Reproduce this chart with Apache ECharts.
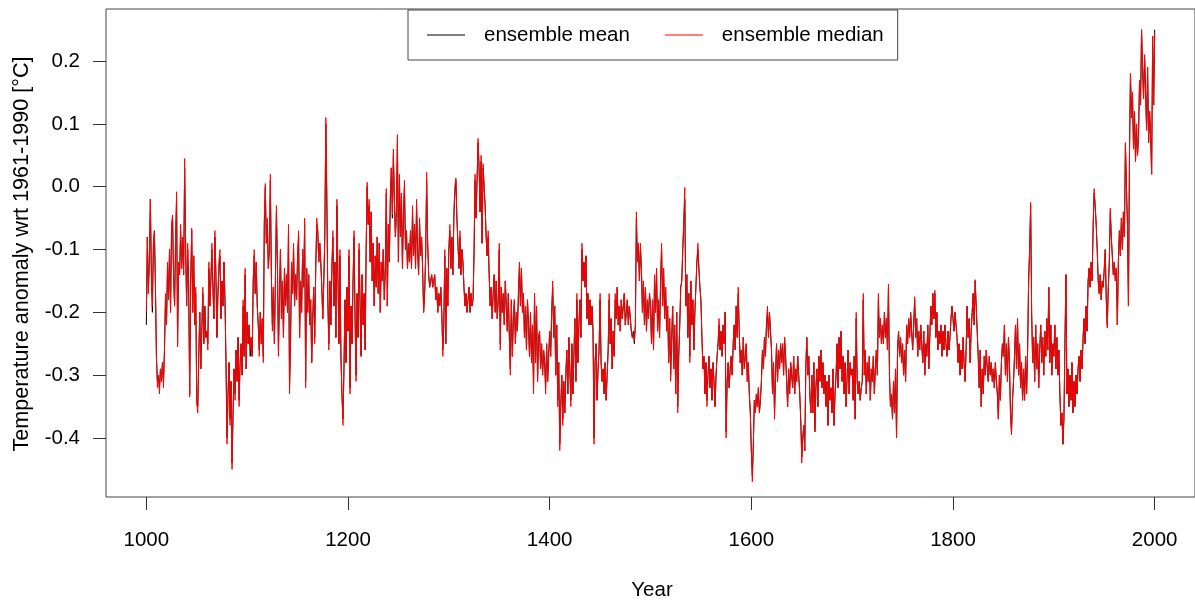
<!DOCTYPE html>
<html>
<head>
<meta charset="utf-8">
<script src="https://cdn.jsdelivr.net/npm/echarts@6/dist/echarts.min.js"></script>
<style>
html, body { margin: 0; padding: 0; background: #fff; }
#chart { width: 1195px; height: 601px; }
</style>
</head>
<body>
<div id="chart"></div>
<script>
// annual values, one row per decade, starting in 1000
var firstYear = 1000;
var xTicks = [1000, 1200, 1400, 1600, 1800, 2000];
var yTicks = [-0.4, -0.3, -0.2, -0.1, 0, 0.1, 0.2];

var ensembleMean = [
-0.22,-0.08,-0.17,-0.12,-0.02,-0.14,-0.20,-0.09,-0.07,-0.16,
-0.27,-0.31,-0.30,-0.32,-0.29,-0.31,-0.28,-0.31,-0.26,-0.18,
-0.22,-0.13,-0.18,-0.10,-0.20,-0.07,-0.05,-0.14,-0.19,-0.09,
-0.02,-0.25,-0.12,-0.14,-0.07,-0.13,-0.08,-0.14,0.03,-0.10,
-0.19,-0.10,-0.16,-0.33,-0.15,-0.07,-0.20,-0.11,-0.22,-0.17,
-0.34,-0.35,-0.27,-0.20,-0.29,-0.23,-0.17,-0.25,-0.19,-0.24,
-0.23,-0.25,-0.13,-0.19,-0.15,-0.10,-0.16,-0.21,-0.08,-0.14,
-0.24,-0.17,-0.13,-0.11,-0.21,-0.15,-0.19,-0.12,-0.18,-0.28,
-0.40,-0.33,-0.28,-0.37,-0.31,-0.44,-0.36,-0.29,-0.33,-0.26,
-0.31,-0.24,-0.34,-0.28,-0.25,-0.30,-0.19,-0.27,-0.14,-0.29,
// 1100
-0.20,-0.25,-0.22,-0.27,-0.24,-0.27,-0.15,-0.11,-0.17,-0.12,
-0.19,-0.22,-0.26,-0.20,-0.25,-0.21,-0.27,-0.06,0.00,-0.09,
-0.06,-0.13,-0.10,0.01,-0.14,-0.22,-0.16,-0.25,-0.15,-0.04,
-0.12,-0.26,-0.18,-0.10,-0.21,-0.15,-0.24,-0.13,-0.19,-0.14,
-0.20,-0.07,-0.32,-0.25,-0.12,-0.17,-0.10,-0.19,-0.14,-0.18,
-0.11,-0.08,-0.24,-0.15,-0.20,-0.10,-0.16,-0.06,-0.31,-0.13,
-0.20,-0.14,-0.22,-0.18,-0.28,-0.21,-0.16,-0.24,-0.13,-0.06,
-0.07,-0.12,-0.09,-0.12,-0.16,-0.21,-0.15,-0.08,0.10,-0.02,
-0.18,-0.25,-0.15,-0.22,-0.13,-0.08,-0.19,-0.12,-0.24,-0.03,
-0.14,-0.25,-0.11,-0.27,-0.33,-0.37,-0.29,-0.18,-0.28,-0.16,
// 1200
-0.23,-0.11,-0.32,-0.19,-0.25,-0.15,-0.08,-0.21,-0.30,-0.17,
-0.24,-0.10,-0.19,-0.27,-0.14,-0.22,-0.17,-0.26,-0.10,0.00,
-0.06,-0.03,-0.12,-0.04,-0.15,-0.09,-0.19,-0.11,-0.16,-0.08,
-0.17,-0.09,-0.20,-0.12,-0.15,-0.10,-0.18,-0.13,-0.01,-0.19,
-0.06,-0.12,-0.02,0.03,-0.05,0.05,-0.02,-0.08,-0.04,0.07,
-0.12,0.01,-0.08,-0.01,-0.13,-0.04,0.00,-0.10,-0.07,-0.13,
-0.09,-0.12,-0.07,-0.13,-0.04,-0.11,-0.06,-0.13,-0.03,-0.10,
-0.14,-0.06,-0.11,-0.08,-0.13,-0.20,-0.17,-0.11,0.01,-0.09,
-0.14,-0.16,-0.15,-0.14,-0.16,-0.15,-0.14,-0.18,-0.16,-0.20,
-0.17,-0.19,-0.16,-0.20,-0.26,-0.22,-0.11,-0.25,-0.13,-0.19,
// 1300
-0.10,-0.07,-0.13,-0.08,-0.14,-0.05,-0.01,0.01,-0.05,-0.09,
-0.13,-0.08,-0.14,-0.10,-0.12,-0.16,-0.19,-0.17,-0.20,-0.18,
-0.16,-0.20,-0.17,-0.19,-0.18,-0.11,0.01,-0.05,0.01,0.07,
0.03,-0.04,0.04,-0.09,0.03,0.00,-0.03,-0.08,-0.11,-0.08,
-0.14,-0.19,-0.16,-0.21,-0.17,-0.14,-0.20,-0.15,-0.21,-0.18,
-0.10,-0.25,-0.16,-0.20,-0.17,-0.22,-0.15,-0.19,-0.23,-0.17,
-0.24,-0.29,-0.18,-0.27,-0.21,-0.18,-0.25,-0.20,-0.23,-0.17,
-0.13,-0.19,-0.13,-0.20,-0.17,-0.24,-0.19,-0.26,-0.18,-0.22,
-0.27,-0.20,-0.28,-0.22,-0.32,-0.17,-0.28,-0.19,-0.31,-0.24,
-0.23,-0.29,-0.25,-0.30,-0.26,-0.28,-0.32,-0.25,-0.31,-0.27,
// 1400
-0.23,-0.27,-0.20,-0.16,-0.24,-0.19,-0.30,-0.22,-0.34,-0.28,
-0.41,-0.35,-0.30,-0.37,-0.31,-0.36,-0.30,-0.26,-0.33,-0.24,
-0.29,-0.34,-0.25,-0.33,-0.27,-0.21,-0.31,-0.18,-0.28,-0.22,
-0.18,-0.24,-0.10,-0.15,-0.12,-0.16,-0.11,-0.21,-0.17,-0.22,
-0.18,-0.22,-0.19,-0.23,-0.40,-0.28,-0.25,-0.34,-0.29,-0.26,
-0.18,-0.28,-0.31,-0.29,-0.33,-0.28,-0.34,-0.30,-0.26,-0.18,
-0.25,-0.21,-0.29,-0.23,-0.27,-0.18,-0.21,-0.16,-0.22,-0.19,
-0.23,-0.18,-0.21,-0.19,-0.17,-0.22,-0.20,-0.18,-0.22,-0.19,
-0.21,-0.23,-0.24,-0.23,-0.25,-0.22,-0.05,-0.12,-0.09,-0.15,
-0.10,-0.13,-0.20,-0.15,-0.22,-0.16,-0.23,-0.18,-0.21,-0.17,
// 1500
-0.19,-0.25,-0.18,-0.26,-0.15,-0.20,-0.13,-0.23,-0.18,-0.24,
-0.15,-0.10,-0.19,-0.13,-0.21,-0.16,-0.23,-0.19,-0.28,-0.21,
-0.30,-0.24,-0.19,-0.29,-0.22,-0.33,-0.20,-0.35,-0.27,-0.22,
-0.16,-0.15,-0.10,-0.06,-0.02,-0.19,-0.14,-0.24,-0.17,-0.27,
-0.15,-0.22,-0.18,-0.26,-0.20,-0.16,-0.12,-0.10,-0.13,-0.16,
-0.18,-0.24,-0.29,-0.27,-0.33,-0.28,-0.34,-0.30,-0.27,-0.32,
-0.29,-0.34,-0.28,-0.31,-0.35,-0.30,-0.27,-0.25,-0.22,-0.26,
-0.23,-0.27,-0.22,-0.25,-0.20,-0.39,-0.31,-0.28,-0.32,-0.29,
-0.27,-0.30,-0.25,-0.22,-0.26,-0.19,-0.24,-0.17,-0.23,-0.28,
-0.26,-0.30,-0.24,-0.29,-0.27,-0.25,-0.31,-0.28,-0.33,-0.36,
// 1600
-0.42,-0.46,-0.41,-0.34,-0.36,-0.33,-0.35,-0.32,-0.36,-0.34,
-0.31,-0.26,-0.29,-0.24,-0.27,-0.22,-0.20,-0.24,-0.20,-0.23,
-0.26,-0.33,-0.28,-0.36,-0.30,-0.25,-0.31,-0.26,-0.29,-0.25,
-0.28,-0.25,-0.30,-0.24,-0.27,-0.31,-0.35,-0.29,-0.33,-0.28,
-0.28,-0.32,-0.27,-0.33,-0.29,-0.31,-0.27,-0.30,-0.33,-0.37,
-0.43,-0.40,-0.38,-0.42,-0.29,-0.24,-0.30,-0.27,-0.33,-0.36,
-0.30,-0.36,-0.28,-0.39,-0.32,-0.29,-0.35,-0.27,-0.31,-0.26,
-0.32,-0.28,-0.33,-0.30,-0.35,-0.31,-0.38,-0.30,-0.34,-0.32,
-0.36,-0.29,-0.38,-0.33,-0.30,-0.25,-0.32,-0.24,-0.29,-0.23,
-0.31,-0.27,-0.33,-0.28,-0.35,-0.30,-0.26,-0.33,-0.28,-0.30,
// 1700
-0.29,-0.34,-0.27,-0.37,-0.21,-0.31,-0.33,-0.31,-0.34,-0.32,
-0.31,-0.18,-0.30,-0.26,-0.33,-0.28,-0.31,-0.27,-0.34,-0.29,
-0.31,-0.27,-0.33,-0.29,-0.26,-0.30,-0.18,-0.24,-0.21,-0.25,
-0.22,-0.25,-0.20,-0.24,-0.21,-0.26,-0.16,-0.30,-0.35,-0.33,
-0.37,-0.31,-0.36,-0.29,-0.40,-0.26,-0.23,-0.27,-0.24,-0.28,
-0.25,-0.30,-0.26,-0.31,-0.22,-0.25,-0.21,-0.24,-0.20,-0.23,
-0.26,-0.22,-0.18,-0.24,-0.21,-0.27,-0.23,-0.26,-0.22,-0.25,
-0.28,-0.23,-0.30,-0.25,-0.27,-0.22,-0.29,-0.24,-0.19,-0.22,
-0.17,-0.21,-0.17,-0.24,-0.20,-0.26,-0.23,-0.25,-0.22,-0.27,
-0.23,-0.26,-0.22,-0.25,-0.27,-0.23,-0.26,-0.24,-0.21,-0.19,
// 1800
-0.21,-0.23,-0.20,-0.22,-0.24,-0.28,-0.25,-0.30,-0.26,-0.29,
-0.24,-0.28,-0.31,-0.26,-0.19,-0.24,-0.21,-0.28,-0.23,-0.20,
-0.17,-0.22,-0.15,-0.19,-0.23,-0.27,-0.32,-0.26,-0.35,-0.29,
-0.33,-0.27,-0.30,-0.26,-0.29,-0.31,-0.27,-0.30,-0.28,-0.31,
-0.29,-0.32,-0.28,-0.31,-0.33,-0.37,-0.30,-0.34,-0.28,-0.25,
-0.27,-0.22,-0.30,-0.25,-0.31,-0.24,-0.28,-0.36,-0.39,-0.34,
-0.31,-0.27,-0.22,-0.29,-0.21,-0.30,-0.25,-0.32,-0.28,-0.34,
-0.29,-0.34,-0.27,-0.33,-0.26,-0.15,-0.10,-0.03,-0.20,-0.28,
-0.24,-0.31,-0.22,-0.29,-0.25,-0.32,-0.26,-0.22,-0.28,-0.24,
-0.30,-0.23,-0.27,-0.21,-0.26,-0.16,-0.28,-0.22,-0.30,-0.25,
// 1900
-0.27,-0.22,-0.29,-0.24,-0.30,-0.26,-0.33,-0.38,-0.36,-0.41,
-0.37,-0.25,-0.14,-0.33,-0.29,-0.35,-0.30,-0.34,-0.28,-0.36,
-0.31,-0.35,-0.30,-0.33,-0.29,-0.27,-0.31,-0.26,-0.29,-0.24,
-0.21,-0.25,-0.19,-0.23,-0.15,-0.13,-0.16,-0.12,-0.15,-0.06,
-0.01,-0.03,-0.06,-0.10,-0.15,-0.17,-0.14,-0.18,-0.15,-0.16,
-0.13,-0.10,-0.18,-0.22,-0.16,-0.12,-0.04,-0.08,-0.11,-0.14,
-0.12,-0.15,-0.13,-0.22,-0.12,-0.07,-0.11,-0.05,-0.10,-0.04,
-0.08,0.07,0.00,-0.06,-0.19,0.05,0.18,0.11,0.15,0.06,
0.12,0.04,0.10,0.05,0.08,0.17,0.13,0.25,0.19,0.14,
0.21,0.15,0.09,0.19,0.07,0.12,0.08,0.02,0.24,0.13,
0.25
];

var ensembleMedian = [
-0.20,-0.08,-0.17,-0.11,-0.02,-0.14,-0.19,-0.09,-0.07,-0.15,
-0.27,-0.32,-0.30,-0.33,-0.29,-0.31,-0.28,-0.32,-0.26,-0.17,
-0.22,-0.12,-0.18,-0.10,-0.20,-0.06,-0.045,-0.14,-0.19,-0.08,
-0.008,-0.255,-0.12,-0.14,-0.06,-0.13,-0.08,-0.14,0.045,-0.10,
-0.19,-0.09,-0.16,-0.335,-0.15,-0.066,-0.20,-0.11,-0.22,-0.16,
-0.345,-0.36,-0.27,-0.20,-0.29,-0.23,-0.16,-0.25,-0.19,-0.24,
-0.23,-0.26,-0.12,-0.19,-0.15,-0.09,-0.16,-0.21,-0.07,-0.14,
-0.24,-0.17,-0.12,-0.10,-0.21,-0.15,-0.19,-0.12,-0.18,-0.28,
-0.41,-0.33,-0.28,-0.38,-0.31,-0.45,-0.36,-0.29,-0.34,-0.26,
-0.31,-0.24,-0.35,-0.28,-0.25,-0.30,-0.18,-0.27,-0.13,-0.29,
// 1100
-0.20,-0.25,-0.22,-0.26,-0.24,-0.27,-0.15,-0.10,-0.17,-0.12,
-0.19,-0.22,-0.27,-0.20,-0.25,-0.21,-0.28,-0.05,0.005,-0.09,
-0.05,-0.13,-0.10,0.02,-0.14,-0.23,-0.16,-0.25,-0.15,-0.03,
-0.12,-0.27,-0.18,-0.10,-0.21,-0.15,-0.24,-0.13,-0.19,-0.14,
-0.20,-0.06,-0.33,-0.25,-0.12,-0.17,-0.09,-0.19,-0.14,-0.18,
-0.11,-0.07,-0.24,-0.15,-0.20,-0.10,-0.16,-0.05,-0.32,-0.13,
-0.20,-0.14,-0.22,-0.18,-0.28,-0.21,-0.16,-0.25,-0.13,-0.05,
-0.07,-0.12,-0.09,-0.12,-0.16,-0.21,-0.15,-0.08,0.11,-0.01,
-0.18,-0.26,-0.15,-0.22,-0.13,-0.07,-0.19,-0.12,-0.24,-0.02,
-0.14,-0.25,-0.10,-0.27,-0.33,-0.38,-0.29,-0.18,-0.28,-0.16,
// 1200
-0.23,-0.10,-0.33,-0.19,-0.25,-0.15,-0.07,-0.21,-0.31,-0.17,
-0.24,-0.09,-0.19,-0.27,-0.14,-0.22,-0.17,-0.26,-0.10,0.007,
-0.06,-0.02,-0.12,-0.04,-0.15,-0.09,-0.19,-0.11,-0.16,-0.08,
-0.17,-0.09,-0.20,-0.12,-0.15,-0.10,-0.18,-0.13,-0.003,-0.19,
-0.06,-0.12,-0.01,0.03,-0.045,0.06,-0.02,-0.08,-0.04,0.083,
-0.12,0.02,-0.08,-0.01,-0.13,-0.04,0.01,-0.10,-0.07,-0.13,
-0.09,-0.12,-0.07,-0.13,-0.03,-0.11,-0.06,-0.13,-0.02,-0.10,
-0.14,-0.05,-0.11,-0.08,-0.13,-0.20,-0.17,-0.11,0.023,-0.09,
-0.14,-0.16,-0.15,-0.14,-0.16,-0.15,-0.14,-0.18,-0.16,-0.20,
-0.17,-0.19,-0.16,-0.20,-0.27,-0.22,-0.10,-0.25,-0.13,-0.19,
// 1300
-0.10,-0.06,-0.13,-0.08,-0.14,-0.04,0.00,0.014,-0.05,-0.09,
-0.13,-0.07,-0.14,-0.10,-0.12,-0.16,-0.19,-0.17,-0.20,-0.18,
-0.16,-0.20,-0.17,-0.19,-0.18,-0.10,0.02,-0.05,0.01,0.077,
0.03,-0.04,0.05,-0.09,0.037,0.00,-0.03,-0.08,-0.11,-0.07,
-0.14,-0.19,-0.16,-0.21,-0.17,-0.14,-0.20,-0.15,-0.21,-0.18,
-0.09,-0.26,-0.16,-0.20,-0.17,-0.22,-0.15,-0.19,-0.23,-0.17,
-0.24,-0.30,-0.18,-0.27,-0.21,-0.18,-0.25,-0.20,-0.23,-0.17,
-0.12,-0.19,-0.13,-0.20,-0.17,-0.24,-0.19,-0.26,-0.18,-0.22,
-0.27,-0.20,-0.28,-0.22,-0.33,-0.17,-0.28,-0.19,-0.31,-0.24,
-0.23,-0.29,-0.25,-0.30,-0.26,-0.28,-0.33,-0.25,-0.31,-0.27,
// 1400
-0.23,-0.27,-0.20,-0.15,-0.24,-0.19,-0.30,-0.22,-0.35,-0.28,
-0.42,-0.35,-0.30,-0.38,-0.31,-0.36,-0.30,-0.26,-0.33,-0.24,
-0.29,-0.35,-0.25,-0.33,-0.27,-0.21,-0.31,-0.17,-0.28,-0.22,
-0.18,-0.24,-0.09,-0.15,-0.12,-0.16,-0.11,-0.21,-0.17,-0.22,
-0.18,-0.22,-0.19,-0.23,-0.41,-0.28,-0.25,-0.34,-0.29,-0.26,
-0.17,-0.28,-0.31,-0.29,-0.33,-0.28,-0.34,-0.30,-0.26,-0.17,
-0.25,-0.21,-0.29,-0.23,-0.27,-0.17,-0.21,-0.16,-0.22,-0.19,
-0.23,-0.18,-0.21,-0.19,-0.17,-0.22,-0.20,-0.18,-0.22,-0.19,
-0.21,-0.23,-0.24,-0.235,-0.245,-0.22,-0.04,-0.12,-0.09,-0.15,
-0.09,-0.13,-0.20,-0.15,-0.22,-0.16,-0.23,-0.18,-0.21,-0.17,
// 1500
-0.19,-0.25,-0.18,-0.26,-0.14,-0.20,-0.13,-0.23,-0.18,-0.24,
-0.15,-0.09,-0.19,-0.13,-0.21,-0.16,-0.23,-0.19,-0.28,-0.21,
-0.31,-0.24,-0.19,-0.29,-0.22,-0.33,-0.20,-0.36,-0.27,-0.22,
-0.16,-0.15,-0.10,-0.05,-0.001,-0.19,-0.14,-0.24,-0.17,-0.28,
-0.15,-0.22,-0.18,-0.26,-0.20,-0.16,-0.12,-0.09,-0.13,-0.16,
-0.18,-0.24,-0.29,-0.27,-0.33,-0.28,-0.35,-0.30,-0.27,-0.32,
-0.29,-0.34,-0.28,-0.31,-0.35,-0.30,-0.27,-0.25,-0.21,-0.26,
-0.23,-0.27,-0.22,-0.25,-0.20,-0.40,-0.31,-0.28,-0.32,-0.29,
-0.27,-0.30,-0.25,-0.22,-0.26,-0.19,-0.24,-0.16,-0.23,-0.28,
-0.26,-0.30,-0.24,-0.29,-0.27,-0.25,-0.31,-0.28,-0.33,-0.36,
// 1600
-0.42,-0.47,-0.41,-0.34,-0.36,-0.33,-0.35,-0.32,-0.36,-0.34,
-0.31,-0.26,-0.29,-0.24,-0.27,-0.22,-0.19,-0.24,-0.20,-0.23,
-0.26,-0.33,-0.28,-0.37,-0.30,-0.25,-0.31,-0.26,-0.29,-0.25,
-0.28,-0.25,-0.30,-0.24,-0.27,-0.31,-0.35,-0.29,-0.33,-0.28,
-0.28,-0.32,-0.27,-0.33,-0.29,-0.31,-0.27,-0.30,-0.33,-0.37,
-0.44,-0.40,-0.38,-0.42,-0.29,-0.24,-0.30,-0.27,-0.33,-0.36,
-0.30,-0.36,-0.28,-0.39,-0.32,-0.29,-0.35,-0.27,-0.31,-0.26,
-0.32,-0.28,-0.33,-0.30,-0.35,-0.31,-0.38,-0.30,-0.34,-0.32,
-0.36,-0.29,-0.38,-0.33,-0.30,-0.25,-0.32,-0.24,-0.29,-0.23,
-0.31,-0.27,-0.33,-0.28,-0.35,-0.30,-0.26,-0.33,-0.28,-0.30,
// 1700
-0.29,-0.34,-0.27,-0.37,-0.20,-0.31,-0.33,-0.31,-0.34,-0.32,
-0.31,-0.17,-0.30,-0.26,-0.33,-0.28,-0.31,-0.27,-0.34,-0.29,
-0.31,-0.27,-0.33,-0.29,-0.26,-0.30,-0.17,-0.24,-0.21,-0.25,
-0.22,-0.25,-0.20,-0.24,-0.21,-0.26,-0.155,-0.30,-0.35,-0.33,
-0.37,-0.31,-0.36,-0.29,-0.40,-0.26,-0.23,-0.27,-0.24,-0.28,
-0.25,-0.30,-0.26,-0.31,-0.22,-0.25,-0.21,-0.24,-0.20,-0.23,
-0.26,-0.22,-0.175,-0.24,-0.21,-0.27,-0.23,-0.26,-0.22,-0.25,
-0.28,-0.23,-0.30,-0.25,-0.27,-0.22,-0.29,-0.24,-0.19,-0.22,
-0.17,-0.21,-0.165,-0.24,-0.20,-0.26,-0.23,-0.25,-0.22,-0.27,
-0.23,-0.26,-0.22,-0.25,-0.27,-0.23,-0.26,-0.24,-0.21,-0.19,
// 1800
-0.21,-0.23,-0.20,-0.22,-0.24,-0.28,-0.25,-0.30,-0.26,-0.29,
-0.24,-0.28,-0.31,-0.26,-0.19,-0.24,-0.21,-0.28,-0.23,-0.20,
-0.17,-0.22,-0.148,-0.19,-0.23,-0.27,-0.32,-0.26,-0.35,-0.29,
-0.33,-0.27,-0.30,-0.26,-0.29,-0.31,-0.27,-0.30,-0.28,-0.31,
-0.29,-0.32,-0.28,-0.31,-0.33,-0.37,-0.30,-0.34,-0.28,-0.25,
-0.27,-0.22,-0.30,-0.25,-0.31,-0.24,-0.28,-0.36,-0.395,-0.34,
-0.31,-0.27,-0.22,-0.29,-0.21,-0.30,-0.25,-0.32,-0.28,-0.34,
-0.29,-0.34,-0.27,-0.33,-0.26,-0.15,-0.10,-0.025,-0.20,-0.28,
-0.24,-0.31,-0.22,-0.29,-0.25,-0.32,-0.26,-0.22,-0.28,-0.24,
-0.30,-0.23,-0.27,-0.21,-0.26,-0.16,-0.28,-0.22,-0.30,-0.25,
// 1900
-0.27,-0.22,-0.29,-0.24,-0.30,-0.26,-0.33,-0.38,-0.36,-0.41,
-0.37,-0.25,-0.14,-0.33,-0.29,-0.35,-0.30,-0.34,-0.28,-0.36,
-0.31,-0.35,-0.30,-0.33,-0.29,-0.27,-0.31,-0.26,-0.29,-0.24,
-0.21,-0.25,-0.19,-0.23,-0.15,-0.13,-0.16,-0.12,-0.15,-0.06,
-0.003,-0.03,-0.06,-0.10,-0.15,-0.17,-0.14,-0.18,-0.15,-0.16,
-0.13,-0.10,-0.18,-0.225,-0.16,-0.12,-0.034,-0.08,-0.11,-0.14,
-0.12,-0.15,-0.13,-0.22,-0.12,-0.07,-0.11,-0.05,-0.10,-0.04,
-0.08,0.07,0.00,-0.06,-0.19,0.05,0.18,0.11,0.15,0.06,
0.12,0.04,0.10,0.05,0.08,0.17,0.13,0.25,0.19,0.14,
0.21,0.15,0.09,0.19,0.07,0.12,0.08,0.02,0.24,0.13,
0.245
];

function withYears(values) {
    return values.map(function (v, i) { return [firstYear + i, v]; });
}

var font = '"Liberation Sans", Arial, sans-serif';
var chart = echarts.init(document.getElementById('chart'));

chart.setOption({
    animation: false,
    textStyle: { fontFamily: font },
    grid: {
        left: 106, top: 9, width: 1092, height: 488,
        show: true, borderColor: '#444', borderWidth: 1
    },
    legend: {
        left: 408, top: 10,
        padding: [13, 14, 13, 19],
        itemGap: 35, itemWidth: 38, itemHeight: 1,
        icon: 'rect',
        borderColor: '#444', borderWidth: 1,
        backgroundColor: '#fff',
        selectedMode: false,
        textStyle: { fontSize: 20.5, color: '#000', padding: [0, 0, 0, 14], lineHeight: 24 },
        data: ['ensemble mean', 'ensemble median']
    },
    xAxis: {
        type: 'value', min: 960, max: 2040,
        axisLine: { show: false, onZero: false },
        splitLine: { show: false },
        axisTick: { show: true, length: 13, customValues: xTicks, lineStyle: { color: '#333' } },
        axisLabel: {
            customValues: xTicks, margin: 33, fontSize: 20.5, color: '#000',
            formatter: function (v) { return String(v); }
        }
    },
    yAxis: {
        type: 'value', min: -0.494, max: 0.283,
        axisLine: { show: false, onZero: false },
        splitLine: { show: false },
        axisTick: { show: true, length: 13, customValues: yTicks, lineStyle: { color: '#333' } },
        axisLabel: {
            customValues: yTicks, margin: 26, fontSize: 20.5, color: '#000',
            formatter: function (v) { return v.toFixed(1); }
        }
    },
    graphic: [
        {
            type: 'text', x: 22, y: 254, rotation: Math.PI / 2,
            style: {
                text: 'Temperature anomaly wrt 1961-1990 [°C]',
                fontSize: 21.6, fontFamily: font, fill: '#000',
                align: 'center', verticalAlign: 'middle'
            }
        },
        {
            type: 'text', x: 652, y: 590,
            style: {
                text: 'Year', fontSize: 20.5, fontFamily: font, fill: '#000',
                align: 'center', verticalAlign: 'middle'
            }
        }
    ],
    series: [
        {
            name: 'ensemble mean', type: 'line',
            data: withYears(ensembleMean),
            symbol: 'none', showSymbol: false, sampling: null,
            lineStyle: { color: '#000', width: 1 },
            itemStyle: { color: '#000' },
            z: 2
        },
        {
            name: 'ensemble median', type: 'line',
            data: withYears(ensembleMedian),
            symbol: 'none', showSymbol: false, sampling: null,
            lineStyle: { color: '#ff0000', width: 1 },
            itemStyle: { color: '#ff0000' },
            z: 3
        }
    ]
});
</script>
</body>
</html>
